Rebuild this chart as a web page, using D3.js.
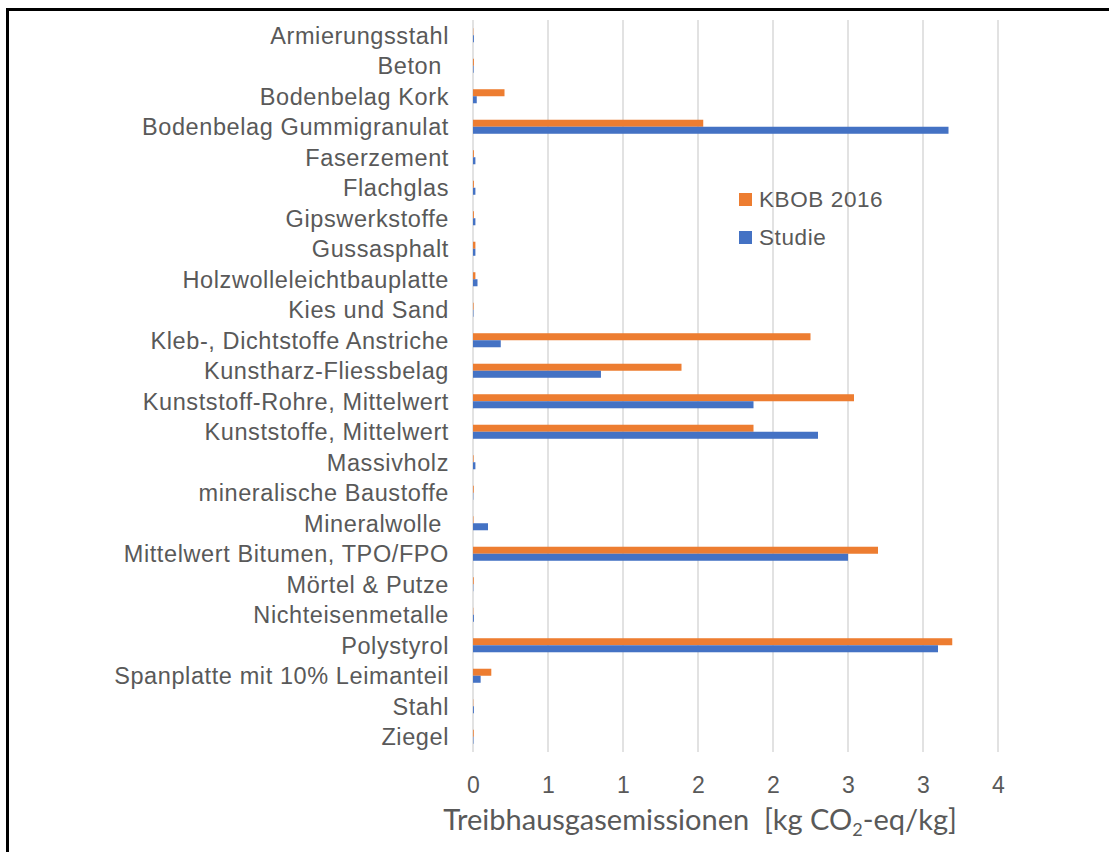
<!DOCTYPE html>
<html>
<head>
<meta charset="utf-8">
<script src="https://cdn.jsdelivr.net/npm/d3@7"></script>
<style>
  body { margin: 0; background: #fff; }
  text { font-family: "Liberation Sans", Arial, sans-serif; fill: #595959; }
</style>
</head>
<body>
<div id="chart"></div>
<script>
// categories (top to bottom)
var materials = [
  "Armierungsstahl", "Beton ", "Bodenbelag Kork", "Bodenbelag Gummigranulat",
  "Faserzement", "Flachglas", "Gipswerkstoffe", "Gussasphalt",
  "Holzwolleleichtbauplatte", "Kies und Sand", "Kleb-, Dichtstoffe Anstriche",
  "Kunstharz-Fliessbelag", "Kunststoff-Rohre, Mittelwert", "Kunststoffe, Mittelwert",
  "Massivholz", "mineralische Baustoffe", "Mineralwolle ", "Mittelwert Bitumen, TPO/FPO",
  "Mörtel & Putze", "Nichteisenmetalle", "Polystyrol", "Spanplatte mit 10% Leimanteil",
  "Stahl", "Ziegel"
];
var kbob2016 = [
  0.002, 0.006, 0.21, 1.535,
  0.006, 0.006, 0.006, 0.016,
  0.016, 0.004, 2.25,
  1.39, 2.54, 1.87,
  0.004, 0.005, 0.003, 2.70,
  0.005, 0.002, 3.195, 0.122,
  0.002, 0.005
];
var studie = [
  0.006, 0.004, 0.025, 3.17,
  0.016, 0.016, 0.016, 0.016,
  0.03, 0.003, 0.185,
  0.853, 1.87, 2.30,
  0.016, 0.002, 0.10, 2.50,
  0.002, 0.006, 3.10, 0.051,
  0.006, 0.003
];
var seriesNames = ["KBOB 2016", "Studie"];
var seriesColors = ["#ED7D31", "#4472C4"];
var xTicks = [0, 0.5, 1, 1.5, 2, 2.5, 3, 3.5];

var W = 1109, H = 852;
var svg = d3.select('#chart')
  .append('svg')
    .attr('width', W)
    .attr('height', H);

// frame (only top and left edge visible)
svg.append("path")
  .attr("d", "M7.5,852 L7.5,9.5 L1109,9.5")
  .attr("fill", "none")
  .attr("stroke", "#000")
  .attr("stroke-width", 3);

var plot = {left: 473, right: 998, top: 20, bottom: 752};

var x = d3.scaleLinear()
  .domain([0, 3.5])
  .range([plot.left, plot.right]);

var y = d3.scaleBand()
  .domain(materials)
  .range([plot.top, plot.bottom])
  .paddingInner(0.54)
  .paddingOuter(0.27);

var ySub = d3.scaleBand()
  .domain(seriesNames)
  .range([0, y.bandwidth()]);

// gridlines
svg.append("g")
  .selectAll("line")
  .data(xTicks)
  .enter().append("line")
    .attr("x1", function(d) { return x(d); })
    .attr("x2", function(d) { return x(d); })
    .attr("y1", plot.top)
    .attr("y2", plot.bottom)
    .attr("stroke", "#D9D9D9")
    .attr("stroke-width", 1.5);

// x axis labels
var xAxis = svg.append("g")
  .attr("class", "x-axis")
  .attr("transform", `translate(0,${plot.bottom})`)
  .call(d3.axisBottom(x).tickValues(xTicks).tickSize(0).tickPadding(0)
    .tickFormat(function(d) { return Math.round(d); }));
xAxis.select(".domain").remove();
xAxis.selectAll("text")
  .attr("y", 41)
  .attr("dy", null)
  .style("font-size", "23px")
  .style("fill", "#595959");

// category labels
var yAxis = svg.append("g")
  .attr("class", "y-axis")
  .attr("transform", `translate(${plot.left},0)`)
  .call(d3.axisLeft(y).tickSize(0).tickPadding(24));
yAxis.select(".domain").remove();
yAxis.selectAll("text")
  .style("font-size", "23.5px")
  .style("letter-spacing", "0.6px")
  .style("white-space", "pre")
  .style("fill", "#595959")
  .attr("dy", "0.36em");

// bars
var rows = materials.map(function(m, i) {
  return {name: m, values: [kbob2016[i], studie[i]]};
});

var groups = svg.append("g")
  .selectAll("g")
  .data(rows)
  .enter().append("g")
    .attr("transform", function(d) { return `translate(0,${y(d.name)})`; });

groups.selectAll("rect")
  .data(function(d) { return d.values.map(function(v, k) { return {key: seriesNames[k], value: v, color: seriesColors[k]}; }); })
  .enter().append("rect")
    .attr("x", x(0))
    .attr("y", function(d) { return ySub(d.key); })
    .attr("width", function(d) { return x(d.value) - x(0); })
    .attr("height", ySub.bandwidth())
    .attr("fill", function(d) { return d.color; });

// legend
var legend = svg.append("g")
  .attr("transform", "translate(739,193)");

var items = legend.selectAll("g")
  .data(seriesNames)
  .enter().append("g")
    .attr("transform", function(d, i) { return `translate(0,${i * 38})`; });

items.append("rect")
  .attr("width", 13)
  .attr("height", 13)
  .attr("fill", function(d, i) { return seriesColors[i]; });

items.append("text")
  .attr("x", 20)
  .attr("y", 14)
  .style("font-size", "22.5px")
  .style("letter-spacing", "0.6px")
  .text(function(d) { return d; });

// axis title
var title = svg.append("text")
  .attr("x", 700)
  .attr("y", 830)
  .attr("text-anchor", "middle")
  .style("font-family", "Lato, sans-serif")
  .style("font-size", "29px")
  .style("white-space", "pre");
title.append("tspan").text("Treibhausgasemissionen  [kg CO");
title.append("tspan").attr("dy", 6).style("font-size", "18px").text("2");
title.append("tspan").attr("dy", -6).text("-eq/kg]");
</script>
</body>
</html>
